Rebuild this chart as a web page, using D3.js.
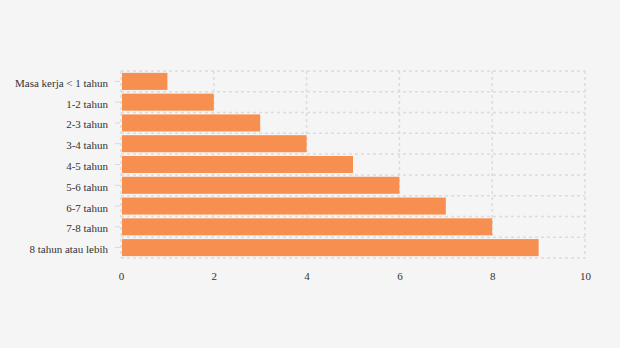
<!DOCTYPE html>
<html><head><meta charset="utf-8">
<script src="https://cdn.jsdelivr.net/npm/d3@7"></script>
<style>body{margin:0;background:#f5f5f5;}svg{display:block;}</style>
</head><body>
<svg id="c" width="620" height="348"></svg>
<script>
const categories = ["Masa kerja < 1 tahun","1-2 tahun","2-3 tahun","3-4 tahun","4-5 tahun","5-6 tahun","6-7 tahun","7-8 tahun","8 tahun atau lebih"];
const values = [1,2,3,4,5,6,7,8,9];
const xTicks = [0,2,4,6,8,10];

(function(){
const svg = d3.select("#c");
svg.append("rect").attr("width",620).attr("height",348).attr("fill","#f5f5f5");
const mLeft=121, mRight=585, mTop=71, mBottom=258;
const x = d3.scaleLinear().domain([0,10]).range([mLeft,mRight]);
const y = d3.scaleBand().domain(categories).range([mTop,mBottom]).padding(0);
const font = "'Liberation Serif','Times New Roman',serif";
const grid = svg.append("g");
const bounds = categories.map(c=>y(c)).concat([y(categories[categories.length-1])+y.bandwidth()]);
grid.selectAll("line.h").data(bounds).join("line")
  .attr("x1",mLeft).attr("x2",mRight).attr("y1",d=>d).attr("y2",d=>d)
  .attr("stroke","#dcdcdc").attr("stroke-width",1.5).attr("stroke-dasharray","3,3");
grid.selectAll("line.v").data(xTicks).join("line")
  .attr("x1",d=>x(d)).attr("x2",d=>x(d)).attr("y1",mTop).attr("y2",mBottom)
  .attr("stroke","#dcdcdc").attr("stroke-width",1.5).attr("stroke-dasharray","3,3");

const inset = y.bandwidth()*0.09;
svg.append("g").selectAll("rect").data(values).join("rect")
  .attr("x",x(0)+1).attr("y",(d,i)=>y(categories[i])+inset)
  .attr("width",d=>x(d)-x(0)-1).attr("height",y.bandwidth()-2*inset)
  .attr("fill","#f68f50");

const ya = svg.append("g").attr("transform",`translate(${mLeft-1},0)`)
  .call(d3.axisLeft(y).tickSize(5).tickPadding(7));
ya.select(".domain").remove();
ya.selectAll(".tick line").attr("stroke","#d8d8d8");
ya.selectAll(".tick text").attr("fill","#333").attr("dy","0.5em").style("font-family",font).style("font-size","11px");

const xa = svg.append("g").attr("transform",`translate(0,${mBottom})`)
  .call(d3.axisBottom(x).tickValues(xTicks).tickSize(0).tickPadding(14));
xa.select(".domain").remove();
xa.selectAll(".tick text").attr("fill","#333").style("font-family",font).style("font-size","11px");
})();
</script>
</body></html>
